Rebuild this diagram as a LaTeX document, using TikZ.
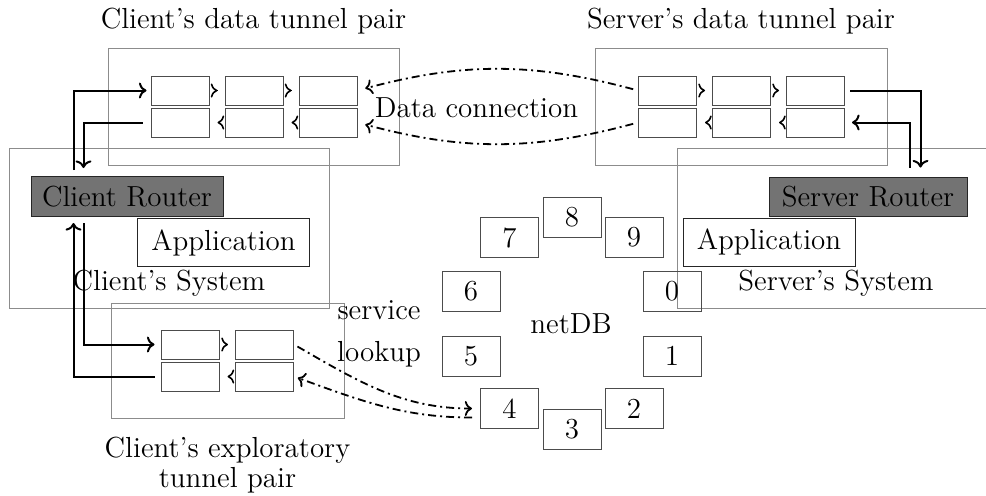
\documentclass[tikz,border=0pt]{standalone}
\usetikzlibrary{calc,arrows.meta}
\begin{document}
\begin{tikzpicture}[x=0.5pt,y=-0.5pt,
  font=\fontsize{14.5pt}{17pt}\selectfont,
  cont/.style={draw=black!45, line width=0.5pt, inner sep=0pt},
  tbox/.style={draw=black!70, line width=0.5pt, minimum width=29pt, minimum height=14.5pt, inner sep=0pt},
  nbox/.style={draw=black!70, line width=0.5pt, minimum width=29pt, minimum height=20pt, inner sep=0pt},
  router/.style={draw=black!85, fill=black!55, line width=0.5pt, minimum height=20pt, inner sep=0pt},
  app/.style={draw=black!85, line width=0.5pt, minimum width=86pt, minimum height=24pt, inner sep=0pt},
  lbl/.style={anchor=base, inner sep=0pt},
  link/.style={line width=1pt, ->},
  chev/.style={line width=0.8pt, ->},
  dd/.style={line width=0.9pt, dash pattern=on 4pt off 2pt on 1pt off 2pt, ->}]
\useasboundingbox (0,0) rectangle (986,495);
\clip (0,0) rectangle (986,495);

% containers
\node[cont, minimum width=145.5pt, minimum height=58.5pt] (cdata) at (253.5,106.5) {};
\node[cont, minimum width=146pt, minimum height=58.5pt] (sdata) at (741,106.5) {};
\node[cont, minimum width=160pt, minimum height=80pt] (csys) at (169,228) {};
\node[cont, minimum width=159pt, minimum height=80pt] (ssys) at (836,228) {};
\node[cont, minimum width=116.5pt, minimum height=57.5pt] (cexp) at (227.5,360.5) {};

% labels
\node[lbl] (lcdata) at (253.5,28) {Client’s data tunnel pair};
\node[lbl] (lsdata) at (741,28) {Server’s data tunnel pair};
\node[lbl] (ldata) at (476.5,117) {Data connection};
\node[lbl] (lcsys) at (169,290) {Client’s System};
\node[lbl] (lssys) at (836,290) {Server’s System};
\node[lbl] (lserv) at (379,319) {service};
\node[lbl] (llook) at (379,361) {lookup};
\node[lbl] (lnet) at (571,333) {netDB};
\node[lbl] (lexp1) at (227.5,457) {Client’s exploratory};
\node[lbl] (lexp2) at (227.5,487) {tunnel pair};

% client data tunnel boxes
\node[tbox] (c1t) at (180,90.5) {};
\node[tbox] (c2t) at (254,90.5) {};
\node[tbox] (c3t) at (328,90.5) {};
\node[tbox] (c1b) at (180,122.5) {};
\node[tbox] (c2b) at (254,122.5) {};
\node[tbox] (c3b) at (328,122.5) {};
% server data tunnel boxes
\node[tbox] (s1t) at (667.5,90.5) {};
\node[tbox] (s2t) at (741.5,90.5) {};
\node[tbox] (s3t) at (815.5,90.5) {};
\node[tbox] (s1b) at (667.5,122.5) {};
\node[tbox] (s2b) at (741.5,122.5) {};
\node[tbox] (s3b) at (815.5,122.5) {};
% exploratory boxes
\node[tbox] (e1t) at (190,344.5) {};
\node[tbox] (e2t) at (264.5,344.5) {};
\node[tbox] (e1b) at (190,376.5) {};
\node[tbox] (e2b) at (264.5,376.5) {};

% routers and applications
\node[router, minimum width=96pt] (crouter) at (127,196.5) {Client Router};
\node[router, minimum width=99pt, minimum height=19.5pt] (srouter) at (868,196.5) {Server Router};
\node[app] (capp) at (223.5,242.5) {Application};
\node[app] (sapp) at (769,242) {Application};

% netDB boxes
\node[nbox] (n8) at (572,217) {8};
\node[nbox] (n7) at (509.5,237.5) {7};
\node[nbox] (n9) at (634,237.5) {9};
\node[nbox] (n6) at (471,291) {6};
\node[nbox] (n0) at (672,291) {0};
\node[nbox] (n5) at (471,356) {5};
\node[nbox] (n1) at (672,356) {1};
\node[nbox] (n4) at (509.5,408.5) {4};
\node[nbox] (n2) at (634,408.5) {2};
\node[nbox] (n3) at (572,429) {3};

% chevrons between tunnel boxes
\foreach \a/\b in {c1t/c2t,c2t/c3t,s1t/s2t,s2t/s3t,e1t/e2t}
  \draw[chev, shorten <=4pt, shorten >=3.5pt] (\a.east) -- (\b.west);
\foreach \a/\b in {c3b/c2b,c2b/c1b,s3b/s2b,s2b/s1b,e2b/e1b}
  \draw[chev, shorten <=3.5pt, shorten >=4pt] (\a.west) -- (\b.east);

% router connectors
\draw[link, shorten <=3pt, shorten >=2pt] ([xshift=21.5pt]crouter.north west) |- (c1t.west);
\draw[link, shorten <=4pt, shorten >=4pt] (c1b.west) -| ([xshift=26.5pt]crouter.north west);
\draw[link, shorten <=3pt, shorten >=3pt] ([xshift=26.5pt]crouter.south west) |- (e1t.west);
\draw[link, shorten <=3pt, shorten >=3pt] (e1b.west) -| ([xshift=21.5pt]crouter.south west);
\draw[link, shorten <=2.5pt, shorten >=4.5pt] (s3t.east) -| ([xshift=76pt]srouter.north west);
\draw[link, shorten <=4.5pt, shorten >=3.5pt] ([xshift=70.5pt]srouter.north west) |- (s3b.east);

% data connection
\draw[dd, shorten <=2.5pt, shorten >=4pt] (s1t.west) to[bend right=15] (c3t.east);
\draw[dd, shorten <=2.5pt, shorten >=4pt] (s1b.west) to[bend left=15] (c3b.east);

% service lookup
\draw[dd, shorten <=2pt, shorten >=4pt] (e2t.east) to[out=-30,in=180] (n4.west);
\draw[dd, shorten <=4pt, shorten >=2pt] (n4.197) to[out=180,in=-20] (e2b.east);
\end{tikzpicture}
\end{document}
